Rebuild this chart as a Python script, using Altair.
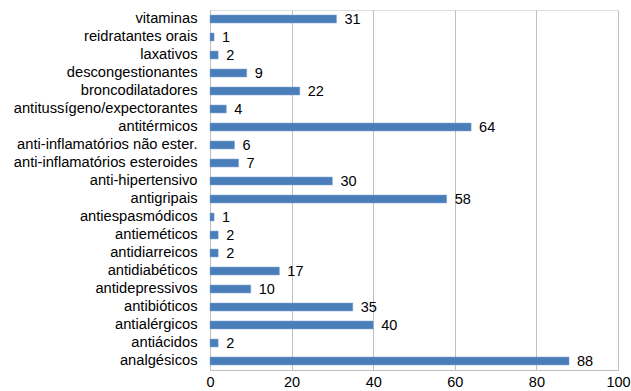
import altair as alt
import pandas as pd

categories = ["vitaminas", "reidratantes orais", "laxativos", "descongestionantes",
              "broncodilatadores", "antitussígeno/expectorantes", "antitérmicos",
              "anti-inflamatórios não ester.", "anti-inflamatórios esteroides",
              "anti-hipertensivo", "antigripais", "antiespasmódicos", "antieméticos",
              "antidiarreicos", "antidiabéticos", "antidepressivos", "antibióticos",
              "antialérgicos", "antiácidos", "analgésicos"]
values = [31, 1, 2, 9, 22, 4, 64, 6, 7, 30, 58, 1, 2, 2, 17, 10, 35, 40, 2, 88]
x_ticks = [0, 20, 40, 60, 80, 100]

df = pd.DataFrame({"cat": categories, "val": values})

FONT = "Liberation Sans"

y_enc = alt.Y("cat:N", sort=categories, title=None,
              scale=alt.Scale(paddingInner=0.56, paddingOuter=0.28),
              axis=alt.Axis(labelFont=FONT, labelFontSize=14.7, labelColor="#000000",
                            ticks=False, labelPadding=13, domainColor="#BFBFBF",
                            labelLimit=300))
x_enc = alt.X("val:Q", title=None,
              scale=alt.Scale(domain=[0, 100], nice=False),
              axis=alt.Axis(values=x_ticks, labelFont=FONT, labelFontSize=14.5,
                            labelColor="#000000", ticks=False, labelPadding=5,
                            domainColor="#BFBFBF", gridColor="#BFBFBF",
                            labelFlush=False))

bars = alt.Chart(df).mark_bar(color="#4A7EBB", stroke="#7FA3D3", strokeWidth=0.5).encode(
    x=x_enc, y=y_enc)

labels = alt.Chart(df).mark_text(align="left", baseline="middle", dx=8, dy=1,
                                 font=FONT, fontSize=14.5, color="#000000").encode(
    x="val:Q", y=alt.Y("cat:N", sort=categories), text="val:Q")

chart = (bars + labels).properties(
    width=408, height=360,
    autosize=alt.AutoSizeParams(type="none"),
    padding={"left": 210, "top": 10, "right": 13, "bottom": 21},
).configure_view(stroke=None).configure(background="white")

chart.save("out.html", embed_options={"renderer": "svg", "actions": False})
